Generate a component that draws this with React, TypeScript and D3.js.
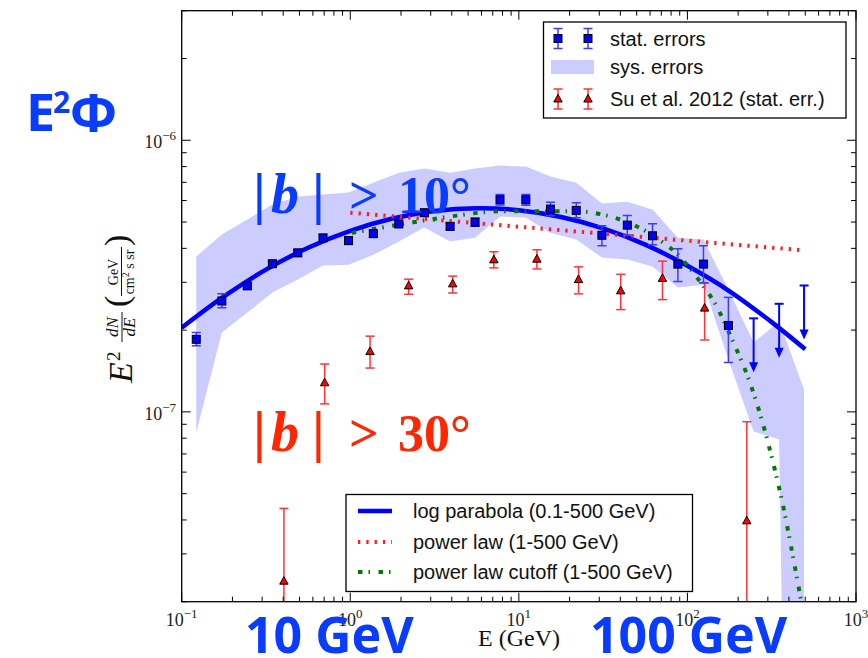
import React, { useEffect } from "react";
import * as d3 from "d3";

const W = 868;
const H = 658;
const U = 1e-7; // values below are in units of 1e-7 GeV cm^-2 s^-1 sr^-1

// Fermi data, |b| > 10 deg (stat. errors)
const statE = [0.122, 0.173, 0.245, 0.345, 0.488, 0.689, 0.977, 1.37, 1.94, 2.75, 3.91, 5.5, 7.73, 11.0, 15.4, 21.9, 31.1, 44.0, 62.1, 87.8, 124.5, 175];
const statV = [1.85, 2.56, 2.91, 3.51, 3.85, 4.37, 4.27, 4.53, 4.92, 5.41, 4.82, 4.99, 6.04, 6.04, 5.58, 5.52, 4.47, 4.87, 4.45, 3.5, 3.5, 2.08];
const statLo = [1.75, 2.42, 2.83, 3.41, 3.74, 4.25, 4.15, 4.4, 4.78, 5.25, 4.68, 4.82, 5.78, 5.77, 5.27, 5.18, 4.09, 4.48, 4.12, 3.02, 2.99, 1.52];
const statHi = [1.96, 2.72, 2.99, 3.61, 3.96, 4.5, 4.4, 4.66, 5.07, 5.57, 4.96, 5.17, 6.31, 6.32, 5.91, 5.89, 4.85, 5.28, 4.93, 3.99, 4.09, 2.64];

// upper limits
const ulE = [247, 350, 492];
const ulV = [2.21, 2.5, 2.92];

// systematic band
const sysE = [0.122, 0.173, 0.245, 0.345, 0.488, 0.689, 0.977, 1.37, 1.94, 2.75, 3.91, 5.5, 7.73, 11.0, 15.4, 21.9, 31.1, 44.0, 62.1, 87.8, 124.5, 175, 247, 350, 492];
const sysHi = [3.73, 4.5, 5.11, 5.8, 6.21, 6.31, 6.42, 6.98, 7.6, 7.87, 7.6, 7.87, 8.07, 8.0, 7.35, 6.98, 5.85, 5.94, 5.56, 4.38, 4.31, 2.82, 1.8, 2.15, 1.21];
const sysLo = [0.839, 1.96, 2.32, 2.75, 3.07, 3.46, 3.48, 3.79, 4.24, 4.77, 4.24, 4.38, 5.24, 5.19, 4.57, 4.31, 3.7, 3.64, 3.43, 2.87, 2.94, 1.56, 0.847, 0.791, 0.000001];

// Su et al. 2012, |b| > 30 deg
const suE = [0.404, 0.705, 1.31, 2.22, 4.05, 7.11, 12.8, 22.6, 40.2, 71.1, 126.5, 225];
const suV = [0.238, 1.28, 1.667, 2.91, 2.96, 3.63, 3.65, 3.07, 2.79, 3.1, 2.41, 0.397];
const suLo = [0.001, 1.07, 1.45, 2.71, 2.74, 3.39, 3.36, 2.72, 2.38, 2.59, 1.84, 0.001];
const suHi = [0.441, 1.5, 1.9, 3.08, 3.16, 3.89, 3.95, 3.42, 3.21, 3.59, 2.98, 0.92];

// fits
const lpE = [0.1, 0.178, 0.316, 0.562, 1, 1.78, 3.16, 5.62, 10, 17.8, 31.6, 56.2, 100, 178, 316, 500];
const lpV = [2.04, 2.66, 3.34, 4.02, 4.64, 5.15, 5.49, 5.62, 5.53, 5.22, 4.74, 4.13, 3.45, 2.78, 2.14, 1.7];
const plE = [1, 500];
const plV = [5.41, 3.93];
const pcE = [1.02, 2.36, 4.28, 7.73, 22.0, 31.5, 54.5, 68.7, 86.3, 103.5, 123.6, 145.6, 186, 233, 277, 320, 365, 409, 454, 500];
const pcV = [4.56, 4.99, 5.28, 5.48, 5.48, 5.32, 4.69, 4.28, 3.83, 3.37, 2.92, 2.51, 1.82, 1.3, 0.929, 0.662, 0.467, 0.327, 0.231, 0.167];

const xMajorVals = [0.1, 1, 10, 100, 1000];
const xMajorExp = ["\u22121", "0", "1", "2", "3"];
const yMajorVals = [1e-7, 1e-6];
const yMajorExp = ["\u22127", "\u22126"];

const legendTop = ["stat. errors", "sys. errors", "Su et al. 2012 (stat. err.)"];
const legendBottom = ["log parabola (0.1-500 GeV)", "power law (1-500 GeV)", "power law cutoff (1-500 GeV)"];

const BLUE_TXT = "#0a3cff";
const RED_TXT = "#ff2600";
const BAND = "#ccccff";
const SERIF = "'Liberation Serif', 'DejaVu Serif', serif";
const SANS = "'Liberation Sans', Arial, sans-serif";
const BOLDSANS = "'Noto Sans', 'Open Sans', sans-serif";

export default function App() {
  useEffect(() => {
    document.body.style.margin = "0";
  }, []);

  const x = d3.scaleLog().domain([0.1, 1000]).range([181.7, 856]);
  const y = d3.scaleLog().domain([2e-8, 3e-6]).range([601.7, 10.7]);
  const X0 = 181.7, X1 = 856, YT = 10.7, YB = 601.7;

  const isMajor = (t: number) => Math.abs(Math.log10(t) - Math.round(Math.log10(t))) < 1e-6;

  const band = d3
    .area<number>()
    .x((i) => x(sysE[i]))
    .y0((i) => y(sysLo[i] * U))
    .y1((i) => y(sysHi[i] * U));
  const bandPath = band(sysE.map((_, i) => i)) || "";

  const lineCR = d3
    .line<[number, number]>()
    .x((d) => x(d[0]))
    .y((d) => y(d[1] * U))
    .curve(d3.curveCatmullRom);
  const lineMono = d3
    .line<[number, number]>()
    .x((d) => x(d[0]))
    .y((d) => y(d[1] * U))
    .curve(d3.curveMonotoneX);

  const lpPath = lineCR(lpE.map((e, i) => [e, lpV[i]])) || "";
  const plPath = lineMono(plE.map((e, i) => [e, plV[i]])) || "";
  const pcPath = lineMono(pcE.map((e, i) => [e, pcV[i]])) || "";

  const xt = x.ticks();
  const yt = y.ticks();

  const cap = 4.5;
  const ERRB = "#3b3bff";
  const ERRR = "#ff3535";

  const tri = (cx: number, cy: number) =>
    `M${cx},${cy - 4.6}L${cx + 4.2},${cy + 3}L${cx - 4.2},${cy + 3}Z`;

  const blueMarker = (cx: number, cy: number, lo: number, hi: number, key: string) => (
    <g key={key}>
      <line x1={cx} x2={cx} y1={lo} y2={hi} stroke={ERRB} strokeWidth={1.5} />
      <line x1={cx - cap} x2={cx + cap} y1={lo} y2={lo} stroke={ERRB} strokeWidth={1.5} />
      <line x1={cx - cap} x2={cx + cap} y1={hi} y2={hi} stroke={ERRB} strokeWidth={1.5} />
      <rect x={cx - 4} y={cy - 4} width={8} height={8} fill="#0000ff" stroke="#000" strokeWidth={1} />
    </g>
  );
  const redMarker = (cx: number, cy: number, lo: number, hi: number, key: string) => (
    <g key={key}>
      <line x1={cx} x2={cx} y1={lo} y2={hi} stroke={ERRR} strokeWidth={1.5} />
      <line x1={cx - cap} x2={cx + cap} y1={lo} y2={lo} stroke={ERRR} strokeWidth={1.5} />
      <line x1={cx - cap} x2={cx + cap} y1={hi} y2={hi} stroke={ERRR} strokeWidth={1.5} />
      <path d={tri(cx, cy)} fill="#ff0000" stroke="#000" strokeWidth={1} />
    </g>
  );

  return (
    <svg width={W} height={H} style={{ display: "block", position: "absolute", left: 0, top: 0 }} xmlns="http://www.w3.org/2000/svg">
      <rect x={0} y={0} width={W} height={H} fill="#fff" />
      <defs>
        <clipPath id="plotclip">
          <rect x={X0} y={YT} width={X1 - X0} height={YB - YT} />
        </clipPath>
      </defs>

      <g clipPath="url(#plotclip)">
        <path d={bandPath} fill={BAND} stroke="none" />
        <path d={lpPath} fill="none" stroke="#0000ff" strokeWidth={4.5} />
        <path d={plPath} fill="none" stroke="#ff1f1f" strokeWidth={4} strokeDasharray="2.3,6" />
        <path d={pcPath} fill="none" stroke="#007a00" strokeWidth={4} strokeDasharray="4.5,6,1.5,8.5" />

        {suE.map((e, i) =>
          redMarker(x(e), y(suV[i] * U), y(suLo[i] * U), y(suHi[i] * U), "su" + i)
        )}
        {statE.map((e, i) =>
          blueMarker(x(e), y(statV[i] * U), y(statLo[i] * U), y(statHi[i] * U), "st" + i)
        )}
        {ulE.map((e, i) => {
          const cx = x(e);
          const top = y(ulV[i] * U);
          const tip = top + 54;
          return (
            <g key={"ul" + i}>
              <line x1={cx} x2={cx} y1={top} y2={tip - 9} stroke="#0000ff" strokeWidth={2} />
              <line x1={cx - cap} x2={cx + cap} y1={top} y2={top} stroke="#0000ff" strokeWidth={2} />
              <path d={`M${cx - 4.5},${tip - 10}L${cx + 4.5},${tip - 10}L${cx},${tip}Z`} fill="#0000ff" />
            </g>
          );
        })}
      </g>

      {/* frame */}
      <rect x={X0} y={YT} width={X1 - X0} height={YB - YT} fill="none" stroke="#000" strokeWidth={1.3} />

      {/* ticks */}
      {xt.map((t, i) => {
        const L = isMajor(t) ? 9 : 5;
        const px = x(t);
        return (
          <g key={"xt" + i} stroke="#000" strokeWidth={1}>
            <line x1={px} x2={px} y1={YB} y2={YB - L} />
            <line x1={px} x2={px} y1={YT} y2={YT + L} />
          </g>
        );
      })}
      {yt.map((t, i) => {
        const L = isMajor(t) ? 9 : 5;
        const py = y(t);
        return (
          <g key={"yt" + i} stroke="#000" strokeWidth={1}>
            <line x1={X0} x2={X0 + L} y1={py} y2={py} />
            <line x1={X1} x2={X1 - L} y1={py} y2={py} />
          </g>
        );
      })}

      {/* tick labels */}
      {xMajorVals.map((v, i) => (
        <text key={"xl" + i} x={x(v)} y={626} textAnchor="middle" fontFamily={SERIF} fontSize={18} fill="#222">
          10
          <tspan dy={-8} fontSize={13}>{xMajorExp[i]}</tspan>
        </text>
      ))}
      {yMajorVals.map((v, i) => (
        <text key={"yl" + i} x={176} y={y(v) + 8} textAnchor="end" fontFamily={SERIF} fontSize={18} fill="#222">
          10
          <tspan dy={-8} fontSize={13}>{yMajorExp[i]}</tspan>
        </text>
      ))}

      {/* x label */}
      <text x={519} y={646} textAnchor="middle" fontFamily={SERIF} fontSize={24} fill="#111">
        E (GeV)
      </text>

      {/* y label */}
      <g transform="translate(132,309) rotate(-90)" fontFamily={SERIF} fill="#111">
        <text x={-74} y={0} fontSize={34} fontStyle="italic">E</text>
        <text x={-52} y={-12} fontSize={19}>2</text>
        <text x={-18} y={-14} fontSize={17} fontStyle="italic" textAnchor="middle">dN</text>
        <line x1={-33} x2={-3} y1={-10} y2={-10} stroke="#111" strokeWidth={1} />
        <text x={-18} y={3} fontSize={17} fontStyle="italic" textAnchor="middle">dE</text>
        <text x={2} y={-4} fontSize={34}>(</text>
        <text x={37} y={-14} fontSize={14} textAnchor="middle">GeV</text>
        <line x1={13} x2={62} y1={-10.5} y2={-10.5} stroke="#111" strokeWidth={1} />
        <text x={37} y={2} fontSize={14} textAnchor="middle">
          cm<tspan dy={-5} fontSize={10}>2</tspan>
          <tspan dy={5}> s sr</tspan>
        </text>
        <text x={63} y={-4} fontSize={34}>)</text>
      </g>

      {/* top legend */}
      <g>
        <rect x={543.5} y={22} width={302.5} height={96} fill="#fff" stroke="#000" strokeWidth={1.3} />
        {[558, 588].map((cx, i) => blueMarker(cx, 38.5, 48.5, 28.5, "lb" + i))}
        <rect x={551} y={60} width={43} height={14} fill={BAND} />
        {[558, 588].map((cx, i) => redMarker(cx, 99, 109, 89, "lr" + i))}
        {legendTop.map((s, i) => (
          <text key={"lt" + i} x={610} y={[38.5, 67, 99][i] + 7} fontFamily={SANS} fontSize={20} fill="#111">
            {s}
          </text>
        ))}
      </g>

      {/* bottom legend */}
      <g>
        <rect x={346} y={494.5} width={346.5} height={97} fill="#fff" stroke="#000" strokeWidth={1.3} />
        <line x1={358} x2={392} y1={511} y2={511} stroke="#0000ff" strokeWidth={4.5} />
        <line x1={358} x2={392} y1={542} y2={542} stroke="#ff1f1f" strokeWidth={4} strokeDasharray="2.3,6" />
        <line x1={358} x2={392} y1={572} y2={572} stroke="#007a00" strokeWidth={4} strokeDasharray="4.5,6,1.5,8.5" />
        {legendBottom.map((s, i) => (
          <text key={"lbt" + i} x={413} y={[511, 542, 572][i] + 7} fontFamily={SANS} fontSize={20} fill="#111">
            {s}
          </text>
        ))}
      </g>

      {/* annotations */}
      <g fill={BLUE_TXT} fontFamily={BOLDSANS} fontWeight="bold">
        <text x={26} y={131} fontSize={52}>E</text>
        <text x={53} y={113} fontSize={30}>2</text>
        <text x={70} y={131} fontSize={52}>{"\u03A6"}</text>
        <text x={245} y={653} fontSize={50}>10 GeV</text>
        <text x={590} y={653} fontSize={50}>100 GeV</text>
      </g>

      <g fill={BLUE_TXT} fontFamily={SERIF} fontWeight="bold">
        <text x={253} y={213} fontSize={58}>|</text>
        <text x={271} y={213} fontSize={56} fontStyle="italic">b</text>
        <text x={312} y={213} fontSize={58}>|</text>
        <text x={349} y={213} fontSize={52}>&gt;</text>
        <text x={398} y={213} fontSize={52}>10°</text>
      </g>
      <g fill={RED_TXT} fontFamily={SERIF} fontWeight="bold">
        <text x={253} y={451} fontSize={58}>|</text>
        <text x={271} y={451} fontSize={56} fontStyle="italic">b</text>
        <text x={312} y={451} fontSize={58}>|</text>
        <text x={349} y={451} fontSize={52}>&gt;</text>
        <text x={398} y={451} fontSize={52}>30°</text>
      </g>
    </svg>
  );
}
